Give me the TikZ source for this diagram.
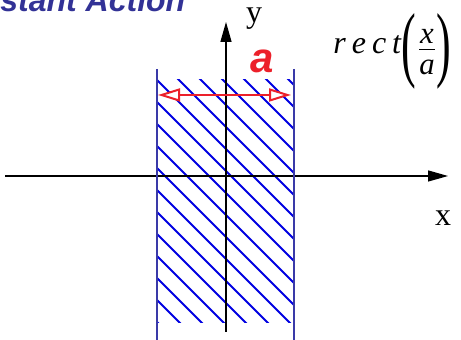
\documentclass[tikz,border=0pt]{standalone}
\usepackage{amsmath}
\usepackage{fontspec}
\setmainfont{Liberation Serif}
\newfontfamily\sansbold{Liberation Sans}
\usetikzlibrary{arrows.meta}

\definecolor{slitblue}{RGB}{58,58,168}
\definecolor{hatchblue}{RGB}{0,0,225}
\definecolor{dimred}{RGB}{236,32,42}
\definecolor{titleblue}{RGB}{50,50,150}

\begin{document}
\begin{tikzpicture}[x=0.5pt, y=-0.5pt,
        axis/.style={black, line width=0.65pt, -{Triangle[length=10pt, width=5.5pt]}},
        slitedge/.style={slitblue, line width=1.25pt},
        hatch/.style={hatchblue, line width=1pt},
        widtharrow/.style={dimred, line width=1pt,
            {Triangle[open, fill=white, length=11pt, width=6.5pt]}-{Triangle[open, fill=white, length=11pt, width=6.5pt]}},
        axlabel/.style={inner sep=0pt, font=\fontsize{16}{19}\selectfont}]
    \useasboundingbox (0,0) rectangle (461,340);
    % Title, cut by the top edge
    \node[anchor=base west, inner sep=0pt, text=titleblue,
        font=\sansbold\bfseries\itshape\fontsize{16}{19}\selectfont] (title) at (-32,12) {Distant Action};
    % Hatched slit
    \begin{scope}
        \clip (157,80) rectangle (294,323);
        \foreach \k in {-11,...,6}
            \draw[hatch] ({77+22*\k},0) -- ++(400,400);
    \end{scope}
    % Axes
    \coordinate (xl) at (5,176);
    \coordinate (xr) at (448,176);
    \coordinate (yb) at (226,332);
    \coordinate (yt) at (226,22);
    \draw[axis] (xl) -- (xr);
    \draw[axis] (yb) -- (yt);
    % Slit edges
    \coordinate (lt) at (157,69);
    \coordinate (lb) at (157,340);
    \coordinate (rt) at (294,69);
    \coordinate (rb) at (294,340);
    \draw[slitedge] (lt) -- (lb);
    \draw[slitedge] (rt) -- (rb);
    % Width a
    \coordinate (wl) at (158,95);
    \coordinate (wr) at (291,95);
    \draw[widtharrow] (wl) -- (wr);
    \node[text=dimred, inner sep=0pt,
        font=\sansbold\bfseries\itshape\fontsize{21}{25}\selectfont] (alabel) at (262,61) {a};
    % Axis labels
    \node[axlabel] (ylabel) at (254,19) {y};
    \node[axlabel] (xlabel) at (443,218) {x};
    % rect(x/a)
    \node[anchor=base west, inner sep=0pt, font=\itshape\fontsize{16}{19}\selectfont] (rectname) at (333,54)
        {r\kern3pt e\kern3pt c\kern3pt t};
    \node[inner sep=0pt, font=\fontsize{22}{26}\selectfont] (lpar) at (409,51.5) {\scalebox{1}[1.9]{(}};
    \node[inner sep=0pt, font=\fontsize{22}{26}\selectfont] (frac) at (427,52)
        {$\genfrac{}{}{0.7pt}{1}{\textit{x}}{\textit{a}}$};
    \node[inner sep=0pt, font=\fontsize{22}{26}\selectfont] (rpar) at (444,51.5) {\scalebox{1}[1.9]{)}};
\end{tikzpicture}
\end{document}
